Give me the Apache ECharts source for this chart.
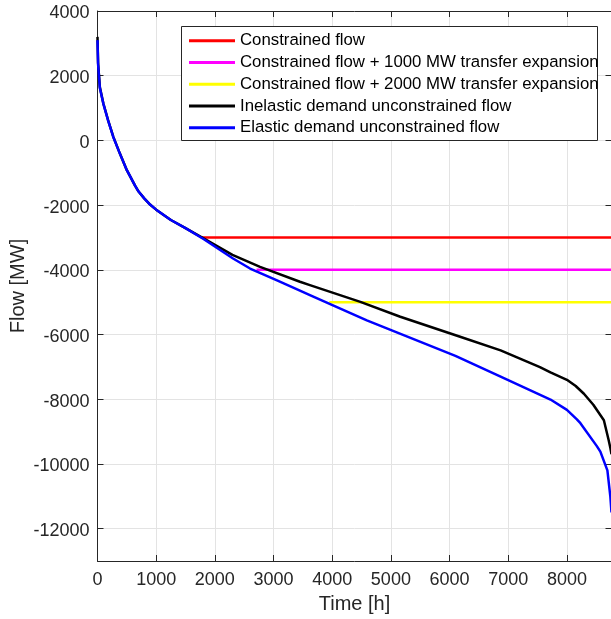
<!DOCTYPE html>
<html>
<head>
<meta charset="utf-8">
<script src="https://cdn.jsdelivr.net/npm/echarts@6/dist/echarts.min.js"></script>
<style>
  html, body { margin: 0; padding: 0; background: #fff; }
  #chart { width: 611px; height: 619px; }
</style>
</head>
<body>
<div id="chart"></div>
<script>
// Flow duration curves (hours sorted by flow)
const inelasticHours = [0, 10, 40, 100, 180, 270, 380, 500, 640, 700, 800, 900, 1000, 1250, 1500, 1800, 2300, 2770, 3450, 3620, 4480, 5160, 6180, 6870, 7540, 7720, 8000, 8150, 8290, 8450, 8630, 8710, 8740, 8760];
const inelasticFlow  = [3200, 2400, 1650, 1140, 630, 110, -400, -920, -1400, -1580, -1800, -1990, -2140, -2460, -2710, -3020, -3540, -3910, -4370, -4475, -4990, -5450, -6070, -6490, -7010, -7170, -7400, -7590, -7830, -8170, -8650, -9250, -9500, -9700];

const elasticHours = [0, 10, 40, 100, 180, 270, 380, 500, 640, 700, 800, 900, 1000, 1250, 1500, 1800, 2310, 2600, 3050, 3450, 3620, 4590, 6100, 6870, 7720, 8000, 8170, 8230, 8510, 8570, 8690, 8740, 8760];
const elasticFlow  = [3100, 2350, 1620, 1130, 620, 100, -400, -920, -1400, -1580, -1800, -1990, -2140, -2460, -2710, -3040, -3650, -3960, -4320, -4640, -4780, -5560, -6660, -7300, -8010, -8330, -8620, -8740, -9450, -9620, -10200, -11000, -11500];

// Transfer limits: flat segments from the hour the curve reaches the limit to year end
const limitFlow      = [-3000, -4000, -5000];
const limitStartHour = [1780, 2710, 3950];
const yearEndHour = 8760;

const seriesNames = [
  'Constrained flow',
  'Constrained flow + 1000 MW transfer expansion',
  'Constrained flow + 2000 MW transfer expansion',
  'Inelastic demand unconstrained flow',
  'Elastic demand unconstrained flow'
];
const seriesColors = ['#ff0000', '#ff00ff', '#ffff00', '#000000', '#0000ff'];

const pairs = (xs, ys) => xs.map((x, i) => [x, ys[i]]);

const FONT = "'Liberation Sans', Arial, Helvetica, sans-serif";
const INK = '#262626';
const plain = v => String(v);

const seriesData = [
  [[limitStartHour[0], limitFlow[0]], [yearEndHour, limitFlow[0]]],
  [[limitStartHour[1], limitFlow[1]], [yearEndHour, limitFlow[1]]],
  [[limitStartHour[2], limitFlow[2]], [yearEndHour, limitFlow[2]]],
  pairs(inelasticHours, inelasticFlow),
  pairs(elasticHours, elasticFlow)
];

const chart = echarts.init(document.getElementById('chart'), null, { renderer: 'canvas' });

const xCommon = { type: 'value', min: 0, max: 8760, interval: 1000 };
const yCommon = { type: 'value', min: -13000, max: 4000, splitNumber: 8 };
const tickStyle = { show: true, inside: true, length: 6, lineStyle: { color: INK } };
const lineStyle = { show: true, onZero: false, lineStyle: { color: INK, width: 1 } };

chart.setOption({
  animation: false,
  backgroundColor: '#ffffff',
  grid: { left: 97.5, right: -0.5, top: 11, bottom: 58, containLabel: false, outerBoundsMode: 'none' },
  xAxis: [
    Object.assign({}, xCommon, {
      position: 'bottom',
      name: 'Time [h]',
      nameLocation: 'middle',
      nameGap: 33,
      nameMoveOverlap: false,
      nameTextStyle: { fontFamily: FONT, fontSize: 20, color: INK },
      axisLine: lineStyle,
      axisTick: tickStyle,
      axisLabel: { fontFamily: FONT, fontSize: 18, color: INK, margin: 10, showMaxLabel: false, formatter: plain },
      splitLine: { show: true, lineStyle: { color: '#e3e3e3', width: 1 } }
    }),
    Object.assign({}, xCommon, {
      position: 'top',
      axisLine: lineStyle,
      axisTick: tickStyle,
      axisLabel: { show: false },
      splitLine: { show: false }
    })
  ],
  yAxis: [
    Object.assign({}, yCommon, {
      position: 'left',
      name: 'Flow [MW]',
      nameLocation: 'middle',
      nameRotate: 90,
      nameGap: 69,
      nameMoveOverlap: false,
      nameTextStyle: { fontFamily: FONT, fontSize: 20, color: INK },
      axisLine: lineStyle,
      axisTick: tickStyle,
      axisLabel: {
        fontFamily: FONT, fontSize: 18, color: INK, margin: 8, showMinLabel: false,
        formatter: v => '{t|' + v + '}',
        rich: { t: { fontFamily: FONT, fontSize: 18, color: INK, padding: [5, 0, 0, 0] } }
      },
      splitLine: { show: true, lineStyle: { color: '#e3e3e3', width: 1 } }
    }),
    Object.assign({}, yCommon, {
      position: 'right',
      axisLine: lineStyle,
      axisTick: tickStyle,
      axisLabel: { show: false },
      splitLine: { show: false }
    })
  ],
  graphic: [{
    type: 'rect',
    z: 3,
    shape: { x: 181.5, y: 26.5, width: 416, height: 114 },
    style: { fill: '#ffffff', stroke: INK, lineWidth: 1 }
  }],
  legend: {
    show: true,
    z: 5,
    orient: 'vertical',
    left: 189,
    top: 30,
    padding: 0,
    itemGap: 0,
    itemWidth: 46,
    itemHeight: 3,
    icon: 'rect',
    textStyle: { fontFamily: FONT, fontSize: 16.8, color: '#000', lineHeight: 21.7 },
    data: seriesNames
  },
  series: seriesNames.map((name, i) => ({
    name: name,
    type: 'line',
    xAxisIndex: 0,
    yAxisIndex: 0,
    data: seriesData[i],
    showSymbol: false,
    symbol: 'none',
    color: seriesColors[i],
    itemStyle: { color: seriesColors[i] },
    lineStyle: { color: seriesColors[i], width: 2.5, join: 'round' },
    clip: true
  }))
});
</script>
</body>
</html>
